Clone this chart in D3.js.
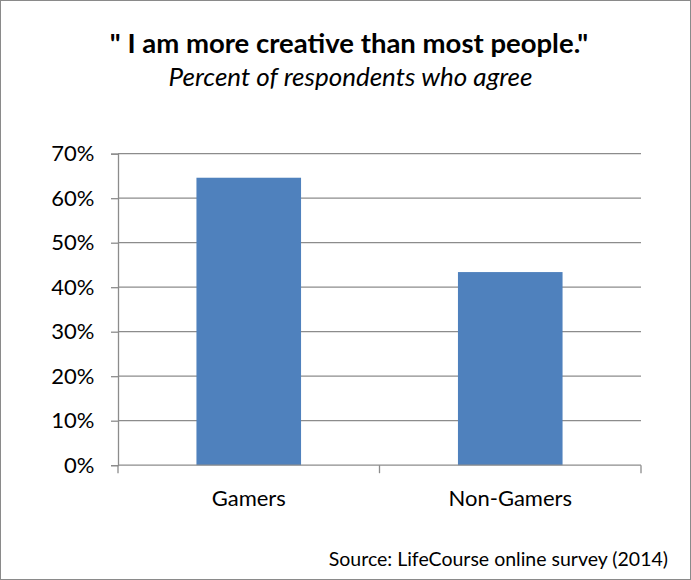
<!DOCTYPE html>
<html>
<head>
<meta charset="utf-8">
<script src="https://cdn.jsdelivr.net/npm/d3@7"></script>
<style>
  html, body { margin: 0; padding: 0; background: #fff; }
  svg { display: block; }
  text { font-family: Lato, "Open Sans", sans-serif; fill: #000; }
</style>
</head>
<body>
<div id="chart"></div>
<script>
// Survey results: share of respondents agreeing with the statement
const categories = ["Gamers", "Non-Gamers"];
const values = [0.646, 0.434];
const yTicks = [0, 0.1, 0.2, 0.3, 0.4, 0.5, 0.6, 0.7];
const titleText = "\" I am more creative than most people.\"";
const subtitleText = "Percent of respondents who agree";
const sourceText = "Source: LifeCourse online survey (2014)";

const W = 691, H = 580;
const plot = { left: 118, right: 641, top: 153.7, bottom: 465.2 };

const svg = d3.select("#chart").append("svg")
  .attr("width", W).attr("height", H);

// outer frame
svg.append("rect")
  .attr("x", 0.5).attr("y", 0.5)
  .attr("width", W - 1).attr("height", H - 1)
  .attr("fill", "#fff").attr("stroke", "#8a8a8a").attr("stroke-width", 1);

const x = d3.scaleBand().domain(categories)
  .range([plot.left, plot.right]).padding(0);
const y = d3.scaleLinear().domain([0, 0.7])
  .range([plot.bottom, plot.top]);

// horizontal gridlines
svg.append("g").selectAll("line")
  .data(yTicks.filter(d => d > 0))
  .join("line")
  .attr("x1", plot.left).attr("x2", plot.right)
  .attr("y1", d => y(d)).attr("y2", d => y(d))
  .attr("stroke", "#8c8c8c").attr("stroke-width", 1.3);

// bars
const barFrac = 0.4;
svg.append("g").selectAll("rect")
  .data(categories.map((c, i) => ({ c, v: values[i] })))
  .join("rect")
  .attr("x", d => x(d.c) + x.bandwidth() * (1 - barFrac) / 2)
  .attr("width", x.bandwidth() * barFrac)
  .attr("y", d => y(d.v))
  .attr("height", d => y(0) - y(d.v))
  .attr("fill", "#4f81bd");

// y axis
const yAxis = svg.append("g")
  .attr("transform", `translate(${plot.left},0)`)
  .call(d3.axisLeft(y).tickValues(yTicks)
    .tickFormat(d3.format(".0%")).tickSize(7).tickPadding(16.5));
yAxis.select(".domain").attr("stroke", "#8c8c8c").attr("stroke-width", 1.3);
yAxis.selectAll(".tick line").attr("stroke", "#8c8c8c").attr("stroke-width", 1.3);
yAxis.selectAll(".tick text")
  .style("font-family", "Lato, 'Open Sans', sans-serif")
  .style("font-size", "22px").attr("fill", "#000");

// x axis: baseline with boundary ticks between categories
const xg = svg.append("g");
xg.append("line")
  .attr("x1", plot.left).attr("x2", plot.right)
  .attr("y1", y(0)).attr("y2", y(0))
  .attr("stroke", "#8c8c8c").attr("stroke-width", 1.3);
const bounds = categories.map(c => x(c)).concat([x(categories[categories.length - 1]) + x.bandwidth()]);
xg.selectAll("line.tk").data(bounds).join("line")
  .attr("class", "tk")
  .attr("x1", d => d).attr("x2", d => d)
  .attr("y1", y(0)).attr("y2", y(0) + 8)
  .attr("stroke", "#8c8c8c").attr("stroke-width", 1.3);
xg.selectAll("text").data(categories).join("text")
  .attr("x", d => x(d) + x.bandwidth() / 2)
  .attr("y", 505.5)
  .attr("text-anchor", "middle")
  .style("font-size", "22px")
  .text(d => d);

// titles
svg.append("text")
  .attr("x", 349).attr("y", 53)
  .attr("text-anchor", "middle")
  .style("font-size", "27.5px").style("font-weight", "bold")
  .text(titleText);
svg.append("text")
  .attr("x", 350.5).attr("y", 86)
  .attr("text-anchor", "middle")
  .style("font-size", "26px").style("font-style", "italic")
  .text(subtitleText);

// source note
svg.append("text")
  .attr("x", 668).attr("y", 566)
  .attr("text-anchor", "end")
  .style("font-size", "19.5px")
  .text(sourceText);
</script>
</body>
</html>
